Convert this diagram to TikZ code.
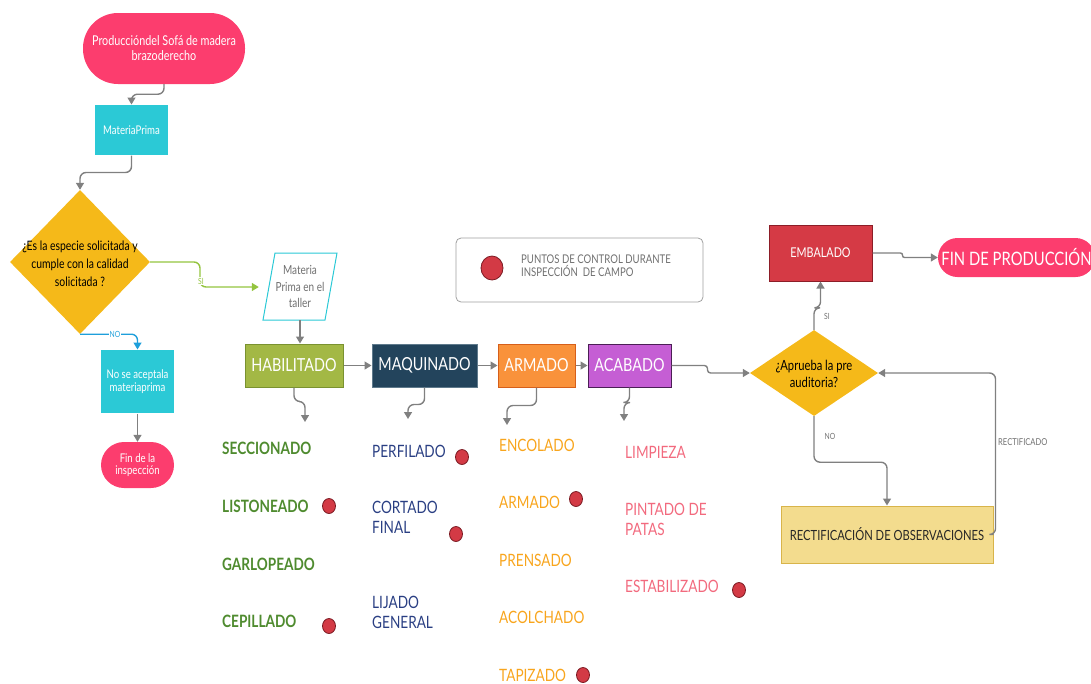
\documentclass[tikz,border=0pt]{standalone}
\usepackage{fontspec}
\setmainfont{Lato}[FakeStretch=0.8]
\usetikzlibrary{arrows.meta,shapes.geometric}
\definecolor{cpink}{HTML}{FC3D6E}
\definecolor{ccyan}{HTML}{2BC9D6}
\definecolor{cyellow}{HTML}{F5B919}
\definecolor{chab}{HTML}{A3B845}
\definecolor{chabd}{HTML}{7A9230}
\definecolor{cmaq}{HTML}{23445C}
\definecolor{cmaqd}{HTML}{5F7A8C}
\definecolor{carm}{HTML}{F9923B}
\definecolor{carmd}{HTML}{D65F1A}
\definecolor{caca}{HTML}{C55ED4}
\definecolor{cacad}{HTML}{4B1F55}
\definecolor{cemb}{HTML}{D53A45}
\definecolor{cembd}{HTML}{8C1D27}
\definecolor{crect}{HTML}{F3DC8E}
\definecolor{crectd}{HTML}{D8B44A}
\definecolor{cline}{HTML}{808080}
\definecolor{cgreenl}{HTML}{94C43F}
\definecolor{cbluel}{HTML}{1E9FDB}
\definecolor{clegend}{HTML}{A0A0A0}
\definecolor{tgreen}{HTML}{4F8B2F}
\definecolor{tnavy}{HTML}{2A3F83}
\definecolor{torange}{HTML}{F8A51D}
\definecolor{tpink}{HTML}{F26A7E}
\definecolor{cdot}{HTML}{D33A45}
\definecolor{cdotd}{HTML}{7A1A22}
\definecolor{tgray}{HTML}{707070}
\begin{document}
\begin{tikzpicture}[x=1pt,y=-1pt,
  conn/.style={draw=cline, line width=1.4pt, rounded corners=6pt, -{Triangle[length=7pt,width=8pt]}},
  box/.style={rectangle, line width=1pt, inner sep=2pt, align=center, text=white},
  pill/.style={rectangle, fill=cpink, text=white, align=center, inner sep=2pt},
  dot/.style={ellipse, fill=cdot, draw=cdotd, line width=0.8pt, minimum width=13pt, minimum height=15pt, inner sep=0pt},
  item/.style={anchor=base west, inner sep=0pt, align=left, font=\fontsize{17}{20}\selectfont},
  lbl/.style={font=\fontsize{8.5}{10}\selectfont, inner sep=1pt}
]
\useasboundingbox (0,0) rectangle (1091,683);

% start
\node[pill, minimum width=162pt, minimum height=71pt, rounded corners=35pt, font=\fontsize{13.5}{15}\selectfont] (start) at (164,48.5) {Produccióndel Sofá de madera\\brazoderecho};
\node[box, fill=ccyan, minimum width=73pt, minimum height=50pt, font=\fontsize{12}{13}\selectfont] (mp1) at (131.5,130) {MateriaPrima};

% diamond 1
\node[diamond, fill=cyellow, minimum width=140pt, minimum height=144pt, inner sep=0pt] (d1) at (80,262) {};
\node[align=center, font=\fontsize{13}{18}\selectfont, inner sep=0pt] (d1t) at (80,264) {¿Es la especie solicitada y\\cumple con la calidad\\solicitada ?};

% parallelogram
\draw[draw=ccyan, line width=1pt, fill=white] (263,320) -- (325,320) -- (337,253) -- (275,253) -- cycle;
\node[minimum width=74pt, minimum height=67pt, inner sep=0pt, text=tgray, align=center, font=\fontsize{12.5}{16.5}\selectfont] (mpt) at (300,286.5) {Materia\\Prima en el\\taller};

% no branch
\node[box, fill=ccyan, minimum width=73pt, minimum height=63pt, font=\fontsize{12}{13}\selectfont] (nsa) at (137.5,381.5) {No se aceptala\\materiaprima};
\node[pill, minimum width=73pt, minimum height=46pt, rounded corners=23pt, font=\fontsize{12}{12.5}\selectfont] (fin1) at (137.5,465) {Fin de la\\inspección};

% process boxes
\node[box, fill=chab, draw=chabd, minimum width=98pt, minimum height=43pt, font=\fontsize{18}{20}\selectfont] (hab) at (294,365.5) {HABILITADO};
\node[box, fill=cmaq, draw=cmaqd, minimum width=105pt, minimum height=43pt, font=\fontsize{18}{20}\selectfont] (maq) at (424.5,365.5) {MAQUINADO};
\node[box, fill=carm, draw=carmd, minimum width=77pt, minimum height=43pt, font=\fontsize{18}{20}\selectfont] (arm) at (536.5,365.5) {ARMADO};
\node[box, fill=caca, draw=cacad, minimum width=83pt, minimum height=43pt, font=\fontsize{18}{20}\selectfont] (aca) at (629.5,365.5) {ACABADO};

% legend
\node[draw=clegend, line width=0.8pt, rounded corners=5pt, minimum width=247pt, minimum height=64pt] (leg) at (579.5,270) {};
\node[dot, minimum width=22pt, minimum height=24pt] (legdot) at (492,268) {};
\node[anchor=west, align=left, text=tgray, inner sep=0pt, font=\fontsize{12}{13}\selectfont] (legt) at (521,265.5) {PUNTOS DE CONTROL DURANTE\\INSPECCIÓN\ \ DE CAMPO};

% diamond 2 and right part
\node[diamond, fill=cyellow, minimum width=128pt, minimum height=86pt, inner sep=0pt] (d2) at (814,373) {};
\node[align=center, font=\fontsize{14}{17}\selectfont, inner sep=0pt] (d2t) at (814,374) {¿Aprueba la pre\\auditoria?};
\node[box, fill=cemb, draw=cembd, minimum width=103pt, minimum height=56pt, font=\fontsize{13.5}{16}\selectfont] (emb) at (820.5,253) {EMBALADO};
\node[pill, minimum width=157pt, minimum height=39pt, rounded corners=19.5pt, font=\fontsize{18.5}{20}\selectfont] (fin2) at (1016.5,257.5) {FIN DE PRODUCCIÓN};
\node[box, fill=crect, draw=crectd, minimum width=212pt, minimum height=57pt, text=black!85, font=\fontsize{14}{15}\selectfont] (rect) at (887,534.5) {RECTIFICACIÓN DE OBSERVACIONES};

% main connectors
\draw[conn] (start.south) -- ++(0,10) -| (mp1.north);
\draw[conn] (mp1.south) -- ++(0,17) -| (d1.north);
\draw[conn, draw=cgreenl, shorten >=4pt] (d1.east) -| (200,287) -- (mpt.west |- 0,287);
\node[lbl, fill=white, text=cgreenl] (si1) at (201,281) {SI};
\draw[conn] (mpt.south) -- (mpt.south |- hab.north);
\draw[conn, draw=cbluel] (d1.south) -| (nsa.north);
\node[lbl, fill=white, text=cbluel] (no1) at (115,334) {NO};
\draw[conn] (nsa.south) -- (fin1.north);
\draw[conn] (hab.east) -- (maq.west);
\draw[conn] (maq.east) -- (arm.west);
\draw[conn] (arm.east) -- (aca.west);
\draw[conn, rounded corners=3pt] (aca.east) -- ++(36,0) |- (d2.west);
\draw[conn] (d2.north) -- ++(0,-22) -| (emb.south);
\node[lbl, text=tgray] (si2) at (827,316) {SI};
\draw[conn, rounded corners=2pt] (emb.east) -- ++(30,0) |- (fin2.west);
\draw[conn] (d2.south) -- ++(0,46) -| (rect.north);
\node[lbl, text=tgray] (no2) at (830,436) {NO};
\draw[conn] (rect.east) -- ++(2,0) |- (d2.east);
\node[lbl, anchor=west, text=tgray, font=\fontsize{9.5}{10}\selectfont] (rectl) at (997,442) {RECTIFICADO};

% sub arrows
\coordinate (h1) at (305,422);
\coordinate (m1) at (408,419);
\coordinate (a1) at (507,425);
\coordinate (c1) at (624,421);
\draw[conn] (hab.south) -- ++(0,14) -| (h1);
\draw[conn] (maq.south) -- ++(0,17) -| (m1);
\draw[conn] (arm.south) -- ++(0,18) -| (a1);
\draw[conn] (aca.south) -- ++(0,15) -| (c1);

% lists
\node[item, text=tgreen, font=\fontsize{17}{20}\bfseries] (l1) at (222,454) {SECCIONADO};
\node[item, text=tgreen, font=\fontsize{17}{20}\bfseries] (l2) at (222,512) {LISTONEADO};
\node[item, text=tgreen, font=\fontsize{17}{20}\bfseries] (l3) at (222,570) {GARLOPEADO};
\node[item, text=tgreen, font=\fontsize{17}{20}\bfseries] (l4) at (222,627) {CEPILLADO};
\node[dot] (dl2) at (329,506) {};
\node[dot] (dl4) at (329,626) {};

\node[item, text=tnavy] (q1) at (372,457) {PERFILADO};
\node[item, text=tnavy] (q2) at (372,533) {CORTADO\\FINAL};
\node[item, text=tnavy] (q3) at (372,628) {LIJADO\\GENERAL};
\node[dot] (dq1) at (462,457) {};
\node[dot] (dq2) at (456,534) {};

\node[item, text=torange] (r1) at (499,451) {ENCOLADO};
\node[item, text=torange] (r2) at (499,508) {ARMADO};
\node[item, text=torange] (r3) at (499,566) {PRENSADO};
\node[item, text=torange] (r4) at (499,623) {ACOLCHADO};
\node[item, text=torange] (r5) at (499,681) {TAPIZADO};
\node[dot] (dr2) at (576,499) {};
\node[dot] (dr5) at (583,675) {};

\node[item, text=tpink] (p1) at (625,458) {LIMPIEZA};
\node[item, text=tpink] (p2) at (625,535) {PINTADO DE\\PATAS};
\node[item, text=tpink] (p3) at (625,592) {ESTABILIZADO};
\node[dot] (dp3) at (739,590) {};
\end{tikzpicture}
\end{document}
